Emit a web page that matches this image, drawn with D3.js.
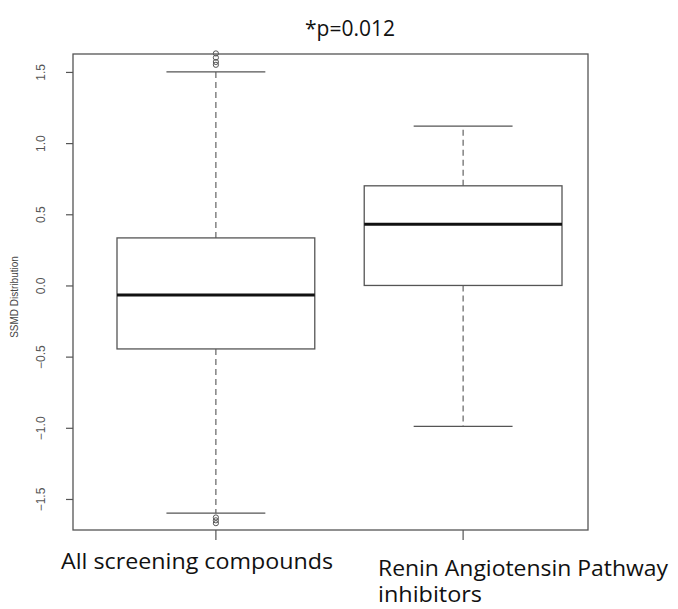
<!DOCTYPE html>
<html>
<head>
<meta charset="utf-8">
<script src="https://cdn.jsdelivr.net/npm/d3@7"></script>
<style>
  body { margin: 0; background: #fff; }
</style>
</head>
<body>
<div id="chart"></div>
<script>
// box stats
let groups = ["All screening compounds", "Renin Angiotensin Pathway inhibitors"];
let lowWhisker = [-1.60, -0.99];
let q1 = [-0.446, 0.0];
let median = [-0.067, 0.43];
let q3 = [0.334, 0.70];
let highWhisker = [1.50, 1.12];
let outliersHigh = [1.55, 1.57, 1.60, 1.63];
let outliersLow = [-1.63, -1.65, -1.67];
let yTicks = [-1.5, -1.0, -0.5, 0.0, 0.5, 1.0, 1.5];

var width = 678, height = 609;
var plotLeft = 73, plotRight = 588, plotTop = 54, plotBottom = 530;

var svg = d3.select('#chart').append('svg')
  .attr('width', width)
  .attr('height', height);

var yScale = d3.scaleLinear()
  .domain([-1.718, 1.626])
  .range([plotBottom, plotTop]);

var xScale = d3.scaleBand()
  .domain(groups)
  .range([117, 562])
  .paddingInner(0.2)
  .paddingOuter(0);

// frame
svg.append('rect')
  .attr('x', plotLeft).attr('y', plotTop)
  .attr('width', plotRight - plotLeft).attr('height', plotBottom - plotTop)
  .style('fill', 'none').style('stroke', '#555').style('stroke-width', 1.3);

// y axis
var yAxis = d3.axisLeft(yScale)
  .tickValues(yTicks)
  .tickSize(7)
  .tickFormat(d3.format('.1f'));

var gy = svg.append('g')
  .attr('transform', `translate(${plotLeft},0)`)
  .call(yAxis);
gy.select('.domain').remove();
gy.selectAll('line').style('stroke', '#555').style('stroke-width', 1.2);
gy.selectAll('.tick text')
  .attr('x', 0).attr('dy', 0).attr('y', 0)
  .attr('transform', 'translate(-28,0) rotate(-90)')
  .style('text-anchor', 'middle')
  .style('font-family', 'Liberation Sans, Arial, sans-serif')
  .style('font-size', '12px')
  .style('fill', '#555');

svg.append('text')
  .attr('transform', `translate(18,${(plotTop + plotBottom) / 2 + 5}) rotate(-90)`)
  .style('text-anchor', 'middle')
  .style('font-family', 'Liberation Sans, Arial, sans-serif')
  .style('font-size', '10px')
  .style('fill', '#444')
  .text('SSMD Distribution');

// x ticks
groups.forEach(function(g) {
  var cx = xScale(g) + xScale.bandwidth() / 2;
  svg.append('line')
    .attr('x1', cx).attr('x2', cx)
    .attr('y1', plotBottom).attr('y2', plotBottom + 10)
    .style('stroke', '#555').style('stroke-width', 1.2);
});

// boxes
groups.forEach(function(g, i) {
  var x0 = xScale(g), bw = xScale.bandwidth(), cx = x0 + bw / 2;
  var box = svg.append('g');

  // whiskers
  box.append('line')
    .attr('x1', cx).attr('x2', cx)
    .attr('y1', yScale(q3[i])).attr('y2', yScale(highWhisker[i]))
    .style('stroke', '#555').style('stroke-dasharray', '6,4').style('stroke-width', 1.1);
  box.append('line')
    .attr('x1', cx).attr('x2', cx)
    .attr('y1', yScale(q1[i])).attr('y2', yScale(lowWhisker[i]))
    .style('stroke', '#555').style('stroke-dasharray', '6,4').style('stroke-width', 1.1);

  // caps
  [highWhisker[i], lowWhisker[i]].forEach(function(v) {
    box.append('line')
      .attr('x1', cx - bw / 4).attr('x2', cx + bw / 4)
      .attr('y1', yScale(v)).attr('y2', yScale(v))
      .style('stroke', '#555').style('stroke-width', 1.3);
  });

  box.append('rect')
    .attr('x', x0).attr('y', yScale(q3[i]))
    .attr('width', bw).attr('height', yScale(q1[i]) - yScale(q3[i]))
    .style('fill', '#fff').style('stroke', '#555').style('stroke-width', 1.3);

  box.append('line')
    .attr('x1', x0).attr('x2', x0 + bw)
    .attr('y1', yScale(median[i])).attr('y2', yScale(median[i]))
    .style('stroke', '#111').style('stroke-width', 3);
});

// outliers for first group
var cx0 = xScale(groups[0]) + xScale.bandwidth() / 2;
svg.selectAll('circle.out')
  .data(outliersHigh.concat(outliersLow))
  .enter().append('circle')
    .attr('class', 'out')
    .attr('cx', cx0)
    .attr('cy', function(d) { return yScale(d); })
    .attr('r', 2.6)
    .style('fill', 'none').style('stroke', '#555').style('stroke-width', 1);

// labels
var labelFont = 'Open Sans, Noto Sans, sans-serif';
svg.append('text')
  .attr('x', width / 2 + 11).attr('y', 36)
  .style('text-anchor', 'middle')
  .style('font-family', labelFont).style('font-size', '21px').style('fill', '#111')
  .text('*p=0.012');

svg.append('text')
  .attr('x', 61).attr('y', 569)
  .attr('textLength', 272).attr('lengthAdjust', 'spacingAndGlyphs')
  .style('font-family', labelFont).style('font-size', '21px').style('fill', '#111')
  .text('All screening compounds');

svg.append('text')
  .attr('x', 378).attr('y', 576)
  .attr('textLength', 290).attr('lengthAdjust', 'spacingAndGlyphs')
  .style('font-family', labelFont).style('font-size', '21px').style('fill', '#111')
  .text('Renin Angiotensin Pathway');
svg.append('text')
  .attr('x', 378).attr('y', 602)
  .attr('textLength', 104).attr('lengthAdjust', 'spacingAndGlyphs')
  .style('font-family', labelFont).style('font-size', '21px').style('fill', '#111')
  .text('inhibitors');
</script>
</body>
</html>
